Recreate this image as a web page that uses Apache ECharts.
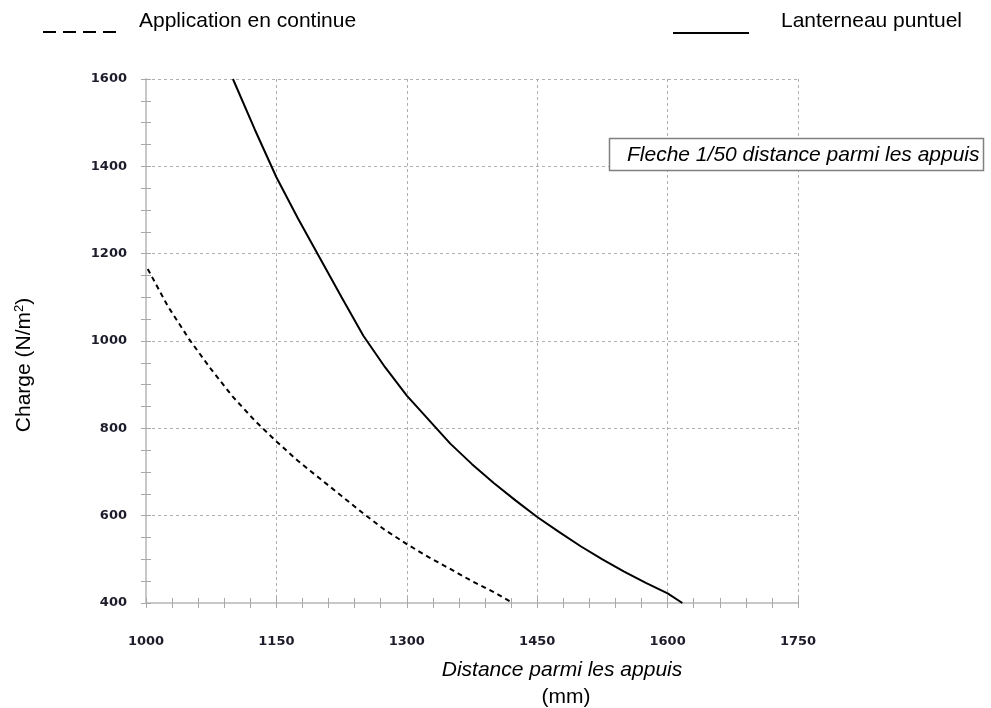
<!DOCTYPE html>
<html>
<head>
<meta charset="utf-8">
<script src="https://cdn.jsdelivr.net/npm/echarts@6/dist/echarts.min.js"></script>
<style>html,body{margin:0;padding:0;background:#fff}#c{width:991px;height:708px}</style>
</head>
<body>
<div id="c"></div>
<script>
// Distance parmi les appuis (mm) and Charge (N/m²)
const distContinue = [1002, 1025, 1050, 1075, 1100, 1125, 1150, 1175, 1200, 1225, 1250, 1275, 1300, 1325, 1350, 1375, 1400, 1422];
const chargeContinue = [1165, 1080, 1003, 935, 872, 818, 770, 725, 685, 645, 605, 567, 535, 505, 478, 450, 425, 400];
const distPonctuel = [1100, 1125, 1150, 1175, 1200, 1225, 1250, 1275, 1300, 1325, 1350, 1375, 1400, 1425, 1450, 1475, 1500, 1525, 1550, 1575, 1600, 1617];
const chargePonctuel = [1600, 1485, 1375, 1280, 1190, 1100, 1012, 940, 875, 820, 765, 718, 675, 635, 597, 563, 530, 500, 472, 446, 422, 400];
const xTicks = [1000, 1150, 1300, 1450, 1600, 1750];
const yTicks = [400, 600, 800, 1000, 1200, 1400, 1600];
const seriesNames = ['Application en continue', 'Lanterneau puntuel'];

const zip = (a, b) => a.map((v, i) => [v, b[i]]);
const chart = echarts.init(document.getElementById('c'));
const tickFont = {fontFamily: 'DejaVu Sans', fontWeight: 'bold', fontSize: 13, color: '#1c1c2a'};
const axisGrey = '#c8c8c8';
const tickGrey = '#a8a8a8';
const fmt = v => String(v);
const baseX = {type: 'value', min: xTicks[0], max: xTicks[xTicks.length - 1], interval: 150, gridIndex: 0};
const baseY = {type: 'value', min: yTicks[0], max: yTicks[yTicks.length - 1], interval: 200, gridIndex: 0};
const FONT = '"Liberation Sans", Arial, sans-serif';

chart.setOption({
  backgroundColor: '#fff',
  animation: false,
  grid: {left: 146, right: 193, top: 79, bottom: 105},
  xAxis: [
    Object.assign({}, baseX, {
      position: 'bottom',
      axisLine: {show: true, lineStyle: {color: axisGrey, width: 2}},
      axisTick: {show: true, length: 5, lineStyle: {color: tickGrey, width: 1}},
      minorTick: {show: true, splitNumber: 5, length: 5, lineStyle: {color: tickGrey, width: 1}},
      axisLabel: Object.assign({margin: 32, formatter: fmt}, tickFont),
      splitLine: {show: true, lineStyle: {color: '#b0b0b0', type: [3, 3], width: 1}}
    }),
    Object.assign({}, baseX, {
      position: 'bottom',
      axisLine: {show: false},
      axisTick: {show: true, inside: true, length: 5, lineStyle: {color: tickGrey, width: 1}},
      minorTick: {show: true, splitNumber: 5, length: 5, lineStyle: {color: tickGrey, width: 1}},
      axisLabel: {show: false}, splitLine: {show: false}
    })
  ],
  yAxis: [
    Object.assign({}, baseY, {
      position: 'left',
      axisLine: {show: true, lineStyle: {color: axisGrey, width: 2}},
      axisTick: {show: true, length: 5, lineStyle: {color: tickGrey, width: 1}},
      minorTick: {show: true, splitNumber: 4, length: 5, lineStyle: {color: tickGrey, width: 1}},
      axisLabel: Object.assign({margin: 19, formatter: fmt}, tickFont),
      splitLine: {show: true, lineStyle: {color: '#b0b0b0', type: [3, 3], width: 1}}
    }),
    Object.assign({}, baseY, {
      position: 'left',
      axisLine: {show: false},
      axisTick: {show: true, inside: true, length: 5, lineStyle: {color: tickGrey, width: 1}},
      minorTick: {show: true, splitNumber: 4, length: 5, lineStyle: {color: tickGrey, width: 1}},
      axisLabel: {show: false}, splitLine: {show: false}
    })
  ],
  series: [
    {name: seriesNames[0], type: 'line', xAxisIndex: 0, yAxisIndex: 0, symbol: 'none', smooth: false,
     data: zip(distContinue, chargeContinue),
     lineStyle: {color: '#000', width: 2, type: [5, 4]}},
    {name: seriesNames[1], type: 'line', xAxisIndex: 0, yAxisIndex: 0, symbol: 'none', smooth: false,
     data: zip(distPonctuel, chargePonctuel),
     lineStyle: {color: '#000', width: 2}}
  ],
  graphic: [
    // legend
    {type: 'line', shape: {x1: 43, y1: 32, x2: 119, y2: 32},
     style: {stroke: '#000', lineWidth: 2, lineDash: [13, 7]}},
    {type: 'text', x: 139, y: 21,
     style: {text: seriesNames[0], verticalAlign: 'middle', font: '21px ' + FONT, fill: '#000'}},
    {type: 'line', shape: {x1: 673, y1: 33, x2: 749, y2: 33},
     style: {stroke: '#000', lineWidth: 2}},
    {type: 'text', x: 781, y: 21,
     style: {text: seriesNames[1], verticalAlign: 'middle', font: '21px ' + FONT, fill: '#000'}},
    // annotation box
    {type: 'rect', z: 100, shape: {x: 609.5, y: 138.5, width: 374, height: 32},
     style: {fill: '#fff', stroke: '#808080', lineWidth: 1.5}},
    {type: 'text', z: 101, x: 627, y: 155,
     style: {text: 'Fleche 1/50 distance parmi les appuis', verticalAlign: 'middle',
             font: 'italic 21px ' + FONT, fill: '#000'}},
    // axis titles
    {type: 'text', x: 562, y: 670, z: 100,
     style: {text: 'Distance parmi les appuis', align: 'center', verticalAlign: 'middle',
             font: 'italic 21px ' + FONT, fill: '#000'}},
    {type: 'text', x: 566, y: 697, z: 100,
     style: {text: '(mm)', align: 'center', verticalAlign: 'middle', font: '21px ' + FONT, fill: '#000'}},
    {type: 'text', x: 24, y: 365, rotation: Math.PI / 2, z: 100,
     style: {text: '{n|Charge (N/m}{s|2}{n|)}', align: 'center', verticalAlign: 'middle',
             rich: {
               n: {fontFamily: 'Liberation Sans', fontSize: 21, fill: '#000'},
               s: {fontFamily: 'Liberation Sans', fontSize: 13, fill: '#000', padding: [0, 0, 10, 0]}
             }}}
  ]
});
</script>
</body>
</html>
